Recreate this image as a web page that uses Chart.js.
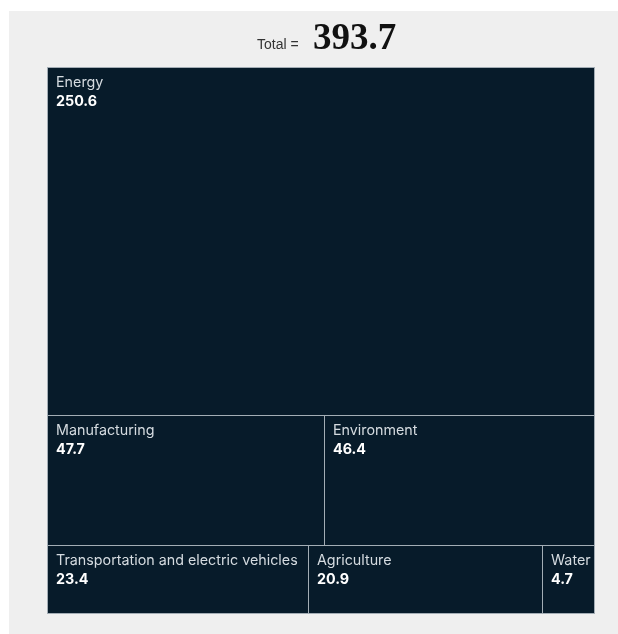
<!DOCTYPE html>
<html>
<head>
<meta charset="utf-8">
<script src="https://cdn.jsdelivr.net/npm/chart.js@4.4.1/dist/chart.umd.min.js"></script>
<style>
  html, body { margin: 0; padding: 0; background: #ffffff; }
  #wrap { position: relative; width: 618px; height: 634px; }
</style>
</head>
<body>
<div id="wrap"><canvas id="c" width="618" height="634"></canvas></div>
<script>
// Sectors and their values, grouped into the rows of the treemap
const categories = ['Energy', 'Manufacturing', 'Environment',
  'Transportation and electric vehicles', 'Agriculture', 'Water'];
const values = [250.6, 47.7, 46.4, 23.4, 20.9, 4.7];
const rowSizes = [1, 2, 3]; // number of sectors in each row, top to bottom
const totalLabel = 'Total =';

const total = values.reduce((a, b) => a + b, 0);

// Slice-and-dice layout in data units: each row's height is its share of the total,
// each cell's width is its share of the row.
function buildCells() {
  const cells = [];
  let idx = 0, yStart = 0;
  rowSizes.forEach(n => {
    const rowVals = values.slice(idx, idx + n);
    const rowSum = rowVals.reduce((a, b) => a + b, 0);
    let xStart = 0;
    rowVals.forEach((v, k) => {
      cells.push({
        label: categories[idx + k], value: v,
        x0: xStart, x1: xStart + v / rowSum,
        y0: yStart, y1: yStart + rowSum
      });
      xStart += v / rowSum;
    });
    yStart += rowSum;
    idx += n;
  });
  return cells;
}
const cells = buildCells();

const LABEL_FONT = 'Inter, "Liberation Sans", Arial, sans-serif';

const treemapPlugin = {
  id: 'treemapRows',
  beforeDraw(chart) {
    const ctx = chart.ctx;
    ctx.save();
    ctx.fillStyle = '#ffffff';
    ctx.fillRect(0, 0, chart.width, chart.height);
    ctx.fillStyle = '#efefef';
    ctx.fillRect(9, 11, chart.width - 9, chart.height - 11);
    ctx.restore();
  },
  afterDatasetsDraw(chart) {
    const ctx = chart.ctx;
    const xs = chart.scales.x, ys = chart.scales.y;
    ctx.save();
    cells.forEach(c => {
      const l = Math.round(xs.getPixelForValue(c.x0));
      const r = Math.round(xs.getPixelForValue(c.x1));
      const t = Math.round(ys.getPixelForValue(c.y0));
      const b = Math.round(ys.getPixelForValue(c.y1));
      ctx.fillStyle = '#071b2a';
      ctx.fillRect(l, t, r - l, b - t);
      ctx.strokeStyle = '#a3adb5';
      ctx.lineWidth = 1;
      ctx.strokeRect(l + 0.5, t + 0.5, r - l, b - t);
      ctx.textBaseline = 'alphabetic';
      ctx.textAlign = 'left';
      ctx.fillStyle = '#d5dbe0';
      ctx.font = '14.3px ' + LABEL_FONT;
      ctx.fillText(c.label, l + 9, t + 20);
      ctx.fillStyle = '#ffffff';
      ctx.font = 'bold 14.3px ' + LABEL_FONT;
      ctx.fillText(c.value.toFixed(1), l + 9, t + 39);
    });
    // Headline total
    ctx.fillStyle = '#333333';
    ctx.font = '14px "Liberation Sans", Arial, sans-serif';
    ctx.fillText(totalLabel, 257, 49);
    ctx.fillStyle = '#111111';
    ctx.font = 'bold 37px "Liberation Serif", "Times New Roman", serif';
    ctx.fillText(total.toFixed(1), 313, 49);
    ctx.restore();
  }
};

new Chart(document.getElementById('c'), {
  type: 'scatter',
  data: {
    datasets: [{
      data: cells.map(c => ({ x: (c.x0 + c.x1) / 2, y: (c.y0 + c.y1) / 2 })),
      pointRadius: 0,
      pointHoverRadius: 0
    }]
  },
  options: {
    responsive: false,
    animation: false,
    events: [],
    layout: { padding: { left: 47, top: 67, right: 24, bottom: 21 } },
    scales: {
      x: { type: 'linear', min: 0, max: 1, display: false },
      y: { type: 'linear', min: 0, max: total, reverse: true, display: false }
    },
    plugins: { legend: { display: false }, tooltip: { enabled: false } }
  },
  plugins: [treemapPlugin]
});
</script>
</body>
</html>
